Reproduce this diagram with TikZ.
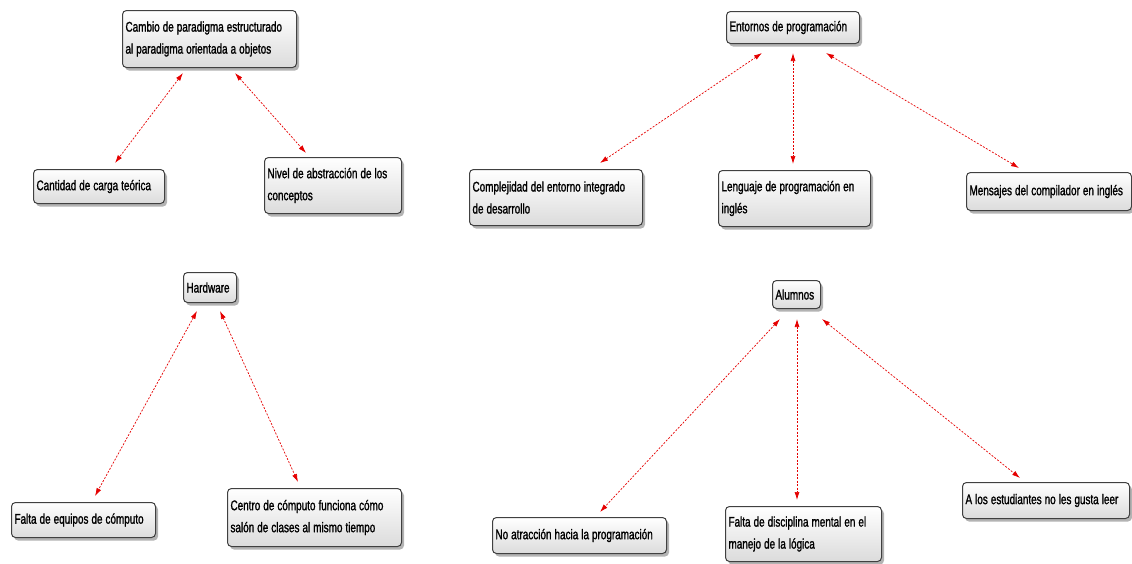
\documentclass[tikz,border=0pt]{standalone}
\usepackage{fontspec}
\setmainfont{Liberation Sans}[FakeStretch=0.71,FakeBold=1.3]
\usetikzlibrary{arrows.meta,shadows}

\tikzset{
  idea/.style={draw=black!75, line width=1pt, rounded corners=4pt,
    top color=white, bottom color=black!14,
    drop shadow={shadow xshift=2.5pt,shadow yshift=-3pt,opacity=0.6},
    anchor=north west, align=left, inner xsep=3pt, inner ysep=3pt,
    font=\fontsize{14}{22}\selectfont,
    execute at begin node={\spaceskip=3pt plus 1pt\relax}},
  link/.style={red!90!black, line width=0.7pt, dash pattern=on 2pt off 1.5pt,
    {Latex[length=8pt,width=5pt]}-{Latex[length=8pt,width=5pt]}}
}

\begin{document}
\begin{tikzpicture}[x=1pt,y=-1pt]
  \useasboundingbox (0,0) rectangle (1132,563);

  %paradigma
  \node[idea, text width=168pt, minimum height=57pt] (cambio) at (122,10) {Cambio de paradigma estructurado\\al paradigma orientada a objetos};
  \node[idea, text width=125pt, minimum height=34pt] (carga) at (33,169) {Cantidad de carga teórica};
  \node[idea, text width=131pt, minimum height=56pt] (abstraccion) at (264,157) {Nivel de abstracción de los\\conceptos};

  %entornos
  \node[idea, text width=127pt, minimum height=32pt] (entornos) at (726,11) {Entornos de programación};
  \node[idea, text width=167pt, minimum height=56pt] (complejidad) at (469,169) {Complejidad del entorno integrado\\de desarrollo};
  \node[idea, text width=146pt, minimum height=56pt] (lenguaje) at (718,170) {Lenguaje de programación en\\inglés};
  \node[idea, text width=159pt, minimum height=38pt] (mensajes) at (966,172) {Mensajes del compilador en inglés};

  %hardware
  \node[idea, text width=47pt, minimum height=30pt] (hardware) at (183,272) {Hardware};
  \node[idea, text width=138pt, minimum height=35pt] (equipos) at (11,502) {Falta de equipos de cómputo};
  \node[idea, text width=168pt, minimum height=58pt] (centro) at (227,488) {Centro de cómputo funciona cómo\\salón de clases al mismo tiempo};

  %alumnos
  \node[idea, text width=42pt, minimum height=28pt] (alumnos) at (772,280) {Alumnos};
  \node[idea, text width=168pt, minimum height=36pt] (atraccion) at (492,517) {No atracción hacia la programación};
  \node[idea, text width=150pt, minimum height=55pt] (disciplina) at (725,506) {Falta de disciplina mental en el\\manejo de la lógica};
  \node[idea, text width=161pt, minimum height=36pt] (leer) at (962,482) {A los estudiantes no les gusta leer};

  %connectors
  \draw[link] ([xshift=61pt,yshift=-5pt]cambio.south west) -- ([xshift=82pt,yshift=6pt]carga.north west);
  \draw[link] ([xshift=113pt,yshift=-5pt]cambio.south west) -- ([xshift=42pt,yshift=4pt]abstraccion.north west);

  \draw[link] ([xshift=36pt,yshift=-9pt]entornos.south west) -- ([xshift=131pt,yshift=6pt]complejidad.north west);
  \draw[link] ([xshift=67pt,yshift=-9pt]entornos.south west) -- ([xshift=75pt,yshift=6pt]lenguaje.north west);
  \draw[link] ([xshift=100pt,yshift=-9pt]entornos.south west) -- ([xshift=53pt,yshift=4pt]mensajes.north west);

  \draw[link] ([xshift=14pt,yshift=-8pt]hardware.south west) -- ([xshift=84pt,yshift=6pt]equipos.north west);
  \draw[link] ([xshift=37pt,yshift=-8pt]hardware.south west) -- ([xshift=71pt,yshift=6pt]centro.north west);

  \draw[link] ([xshift=8pt,yshift=-10pt]alumnos.south west) -- ([xshift=108pt,yshift=5pt]atraccion.north west);
  \draw[link] ([xshift=25pt,yshift=-10pt]alumnos.south west) -- ([xshift=72pt,yshift=6pt]disciplina.north west);
  \draw[link] ([xshift=50pt,yshift=-10pt]alumnos.south west) -- ([xshift=58pt,yshift=4pt]leer.north west);
\end{tikzpicture}
\end{document}
